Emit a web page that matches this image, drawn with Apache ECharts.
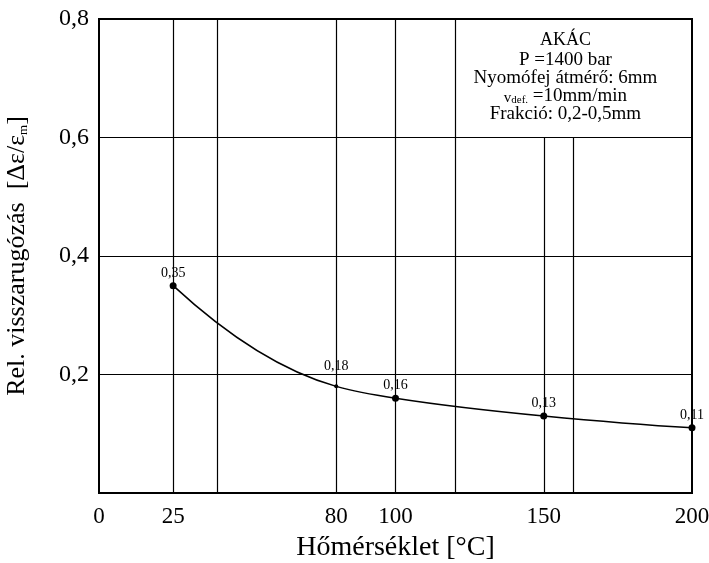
<!DOCTYPE html>
<html>
<head>
<meta charset="utf-8">
<script src="https://cdn.jsdelivr.net/npm/echarts@6/dist/echarts.min.js"></script>
<style>
  html, body { margin: 0; padding: 0; background: #fff; overflow: hidden; }
  #chart { width: 709px; height: 563px; }
</style>
</head>
<body>
<div id="chart"></div>
<script>
// hőmérséklet (°C) és rel. visszarugózás
var temps = [25, 80, 100, 150, 200];
var springback = [0.35, 0.18, 0.16, 0.13, 0.11];
var xTickLabels = [0, 25, 80, 100, 150, 200];
var xGridFull = [25, 40, 80, 100, 120];   // teljes magasságú függőleges vonalak
var xGridLow = [150, 160];                // csak a doboz aljáig
var boxLines = ['AKÁC', 'P =1400 bar', 'Nyomófej átmérő: 6mm', 'v|def.| =10mm/min', 'Frakció: 0,2-0,5mm'];

var FONT = 'Liberation Serif';
var myChart = echarts.init(document.getElementById('chart'));

function comma(v, d) {
  return v.toFixed(d).replace('.', ',');
}

// monoton köbös (PCHIP) érintők a görbe rajzolásához
function pchipSlopes(xs, ys) {
  var n = xs.length, h = [], d = [], m = [];
  for (var i = 0; i < n - 1; i++) {
    h[i] = xs[i + 1] - xs[i];
    d[i] = (ys[i + 1] - ys[i]) / h[i];
  }
  for (var k = 1; k < n - 1; k++) {
    if (d[k - 1] * d[k] <= 0) { m[k] = 0; continue; }
    var w1 = 2 * h[k] + h[k - 1], w2 = h[k] + 2 * h[k - 1];
    m[k] = (w1 + w2) / (w1 / d[k - 1] + w2 / d[k]);
  }
  function endSlope(h0, h1, d0, d1) {
    var s = ((2 * h0 + h1) * d0 - h0 * d1) / (h0 + h1);
    if (s * d0 <= 0) return 0;
    if (d0 * d1 <= 0 && Math.abs(s) > 3 * Math.abs(d0)) return 3 * d0;
    return s;
  }
  m[0] = endSlope(h[0], h[1], d[0], d[1]);
  m[n - 1] = endSlope(h[n - 2], h[n - 3], d[n - 2], d[n - 3]);
  return m;
}

var slopes = pchipSlopes(temps, springback);

function renderCurve(params, api) {
  var children = [];
  for (var i = 0; i < temps.length - 1; i++) {
    var hx = (temps[i + 1] - temps[i]) / 3;
    var p0 = api.coord([temps[i], springback[i]]);
    var c1 = api.coord([temps[i] + hx, springback[i] + slopes[i] * hx]);
    var c2 = api.coord([temps[i + 1] - hx, springback[i + 1] - slopes[i + 1] * hx]);
    var p1 = api.coord([temps[i + 1], springback[i + 1]]);
    children.push({
      type: 'bezierCurve',
      shape: { x1: p0[0], y1: p0[1], cpx1: c1[0], cpy1: c1[1], cpx2: c2[0], cpy2: c2[1], x2: p1[0], y2: p1[1] },
      style: { fill: null, stroke: '#000', lineWidth: 1.5 }
    });
  }
  return { type: 'group', children: children };
}

var lineData = temps.map(function (t, i) {
  return {
    value: [t, springback[i]],
    symbolSize: i === 1 ? 4 : 7,
    label: { distance: i === 1 ? 11 : 2 }
  };
});

var markLines = xGridFull.map(function (v) { return { xAxis: v }; });
xGridLow.forEach(function (v) {
  markLines.push([{ coord: [v, 0] }, { coord: [v, 0.6] }]);
});

// doboz szövege
var vParts = boxLines[3].split('|');
var boxText = '{t|' + boxLines[0] + '}\n' +
  '{n|' + boxLines[1] + '}\n' +
  '{n|' + boxLines[2] + '}\n' +
  '{v|' + vParts[0] + '}{s|' + vParts[1] + '}{n|' + vParts[2] + '}\n' +
  '{n|' + boxLines[4] + '}';

myChart.setOption({
  animation: false,
  backgroundColor: '#fff',
  grid: {
    left: 99, right: 17, top: 19, bottom: 70,
    outerBoundsMode: 'none',
    show: true,
    borderColor: '#000',
    borderWidth: 2,
    backgroundColor: 'transparent'
  },
  xAxis: {
    type: 'value',
    min: 0,
    max: 200,
    name: 'Hőmérséklet [°C]',
    nameLocation: 'middle',
    nameGap: 41,
    nameTextStyle: { fontFamily: FONT, fontSize: 28, color: '#000' },
    axisLine: { show: false },
    axisTick: { show: false },
    splitLine: { show: false },
    axisLabel: {
      customValues: xTickLabels,
      margin: 12,
      fontFamily: FONT,
      fontSize: 23,
      color: '#000'
    }
  },
  yAxis: {
    type: 'value',
    min: 0,
    max: 0.8,
    interval: 0.2,
    name: '{a|Rel. visszarugózás  [Δε/ε}{s|m}{a|]}',
    nameLocation: 'middle',
    nameGap: 69,
    nameTextStyle: {
      rich: {
        a: { fontFamily: FONT, fontSize: 26, color: '#000' },
        s: { fontFamily: FONT, fontSize: 13, color: '#000', verticalAlign: 'bottom', padding: [10, 0, 0, 0] }
      }
    },
    axisLine: { show: false },
    axisTick: { show: false },
    splitLine: { show: true, lineStyle: { color: '#000', width: 1.2 } },
    axisLabel: {
      margin: 10,
      fontFamily: FONT,
      fontSize: 24,
      color: '#000',
      formatter: function (v) { return v === 0 ? '' : comma(v, 1); }
    }
  },
  series: [
    {
      // sima görbe a mért pontokon át
      type: 'custom',
      silent: true,
      renderItem: renderCurve,
      data: [[temps[0], springback[0]]],
      z: 3
    },
    {
      type: 'line',
      data: lineData,
      symbol: 'circle',
      itemStyle: { color: '#000' },
      lineStyle: { width: 0, opacity: 0 },
      z: 4,
      label: {
        show: true,
        position: 'top',
        fontFamily: FONT,
        fontSize: 14,
        color: '#000',
        formatter: function (p) { return comma(p.value[1], 2); }
      },
      markLine: {
        silent: true,
        symbol: 'none',
        label: { show: false },
        lineStyle: { color: '#000', width: 1.2, type: 'solid' },
        emphasis: { disabled: true },
        data: markLines
      },
      markArea: {
        silent: true,
        itemStyle: { color: 'rgba(0,0,0,0)' },
        label: {
          show: true,
          position: 'inside',
          offset: [-8, -2],
          align: 'center',
          formatter: boxText,
          rich: {
            t: { fontFamily: FONT, fontSize: 18, color: '#000', lineHeight: 22, align: 'center' },
            n: { fontFamily: FONT, fontSize: 19, color: '#000', lineHeight: 18, align: 'center' },
            v: { fontFamily: FONT, fontSize: 15, color: '#000', lineHeight: 18, verticalAlign: 'bottom' },
            s: { fontFamily: FONT, fontSize: 11, color: '#000', lineHeight: 18, verticalAlign: 'bottom' }
          }
        },
        data: [[{ coord: [120, 0.8] }, { coord: [200, 0.6] }]]
      }
    }
  ]
});
</script>
</body>
</html>
